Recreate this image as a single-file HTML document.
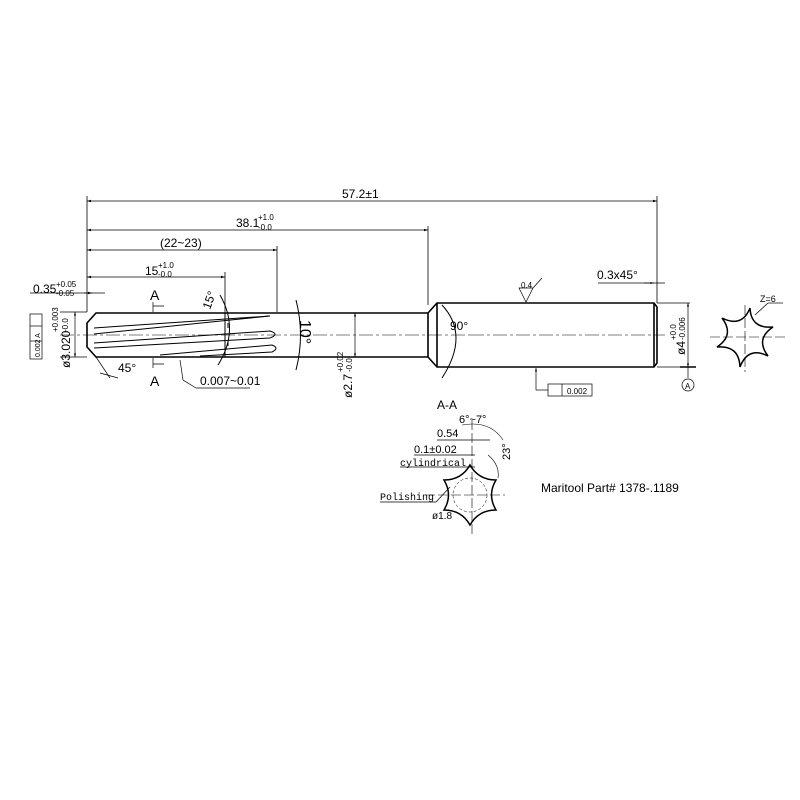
<!DOCTYPE html>
<html><head><style>body{margin:0;background:#fff}svg{display:block}text{font-family:"Liberation Sans",sans-serif;fill:#000}.s{font-family:"Liberation Mono",monospace}</style></head><body>
<svg width="800" height="800" viewBox="0 0 800 800" xmlns="http://www.w3.org/2000/svg">
<defs><marker id="a" viewBox="0 0 10 10" refX="10" refY="5" markerWidth="7" markerHeight="5" orient="auto-start-reverse"><path d="M0,2L10,5L0,8z" fill="#000"/></marker></defs>
<g stroke="#000" fill="none" stroke-width="0.8">
<line x1="87" y1="196" x2="87" y2="312"/>
<line x1="657" y1="196" x2="657" y2="303"/>
<line x1="428" y1="226" x2="428" y2="305"/>
<line x1="277" y1="246" x2="277" y2="312"/>
<line x1="225" y1="272" x2="225" y2="313"/>
<line x1="87" y1="201" x2="657" y2="201" marker-start="url(#a)" marker-end="url(#a)"/>
<line x1="87" y1="230" x2="428" y2="230" marker-start="url(#a)" marker-end="url(#a)"/>
<line x1="87" y1="250" x2="277" y2="250" marker-start="url(#a)" marker-end="url(#a)"/>
<line x1="87" y1="277" x2="225" y2="277" marker-start="url(#a)" marker-end="url(#a)"/>
<line x1="30" y1="293" x2="105" y2="293"/>
<line x1="84" y1="293" x2="92" y2="293" marker-end="url(#a)"/>
</g>
<g stroke="#000" stroke-width="1.6" fill="none">
<path d="M428,313 L96,313 L87,323 L87,347 L96,357 L428,357"/>
<path d="M428,313 L437,303 L654,303 L657,307 L657,363 L654,367 L437,367 L428,357 Z"/>
<line x1="437" y1="303" x2="437" y2="367"/><line x1="654" y1="303" x2="654" y2="367"/>
</g>
<g stroke="#000" stroke-width="1" fill="none">
<path d="M94,328 L270,316 L94,334"/><path d="M94,343 L270,331 Q280,334 270,338 L94,348"/>
<path d="M160,355 L272,345 Q280,348 272,352 L200,356"/>
<line x1="225" y1="313" x2="225" y2="357"/><line x1="228" y1="323" x2="228" y2="328"/><line x1="228" y1="342" x2="228" y2="346"/>
<path d="M220,295 Q240,330 218,365"/>
<path d="M296,300 Q305,335 296,370"/>
<path d="M442,305 Q470,335 442,378"/>
</g>
<g stroke="#000" stroke-width="0.7" fill="none">
<line x1="60" y1="312" x2="87" y2="312"/><line x1="60" y1="357" x2="87" y2="357"/>
<line x1="75" y1="312" x2="75" y2="357" marker-start="url(#a)" marker-end="url(#a)"/>
<line x1="355" y1="313" x2="355" y2="357" marker-start="url(#a)" marker-end="url(#a)"/>
<line x1="657" y1="303" x2="690" y2="303"/><line x1="657" y1="367" x2="690" y2="367"/>
<line x1="688" y1="303" x2="688" y2="367" marker-start="url(#a)" marker-end="url(#a)"/>
<line x1="680" y1="367" x2="696" y2="367" stroke-width="1.5"/><line x1="688" y1="367" x2="688" y2="378"/><circle cx="688" cy="385" r="6"/>
<line x1="598" y1="283" x2="665" y2="283"/><line x1="644" y1="283" x2="654" y2="283" marker-end="url(#a)"/>
<line x1="180" y1="360" x2="183" y2="380"/><line x1="183" y1="380" x2="196" y2="388"/><line x1="196" y1="388" x2="250" y2="388"/>
<line x1="536" y1="390" x2="536" y2="368" marker-end="url(#a)"/><line x1="536" y1="390" x2="548" y2="390"/>
<rect x="548" y="384" width="44" height="12"/><line x1="562" y1="384" x2="562" y2="396"/>
<rect x="30" y="314" width="12" height="45"/><line x1="30" y1="326" x2="42" y2="326"/><line x1="30" y1="341" x2="42" y2="341"/>
<path d="M519,288 L533,288 L526,302 Z"/><line x1="533" y1="288" x2="542" y2="278"/>
<path d="M153,302 L153,312 M153,306 L164,306"/><path d="M153,368 L153,358 M153,364 L164,364"/>
<line x1="96" y1="357" x2="110" y2="378"/><line x1="100" y1="373" x2="118" y2="378"/>
</g>
<line x1="60" y1="335" x2="470" y2="335" stroke="#000" stroke-width="0.6" stroke-dasharray="14,3,3,3"/>
<line x1="470" y1="335" x2="665" y2="335" stroke="#000" stroke-width="0.6" stroke-dasharray="14,3,3,3"/>
<g font-size="12">
<text x="342" y="198">57.2±1</text>
<text x="236" y="227">38.1</text><text x="258" y="220" font-size="8">+1.0</text><text x="258" y="230" font-size="8">-0.0</text>
<text x="160" y="247">(22~23)</text>
<text x="145" y="275">15</text><text x="158" y="268" font-size="8">+1.0</text><text x="158" y="277" font-size="8">-0.0</text>
<text x="33" y="293">0.35</text><text x="56" y="287" font-size="8">+0.05</text><text x="56" y="296" font-size="8">-0.05</text>
<text x="597" y="279">0.3x45°</text>
<text x="450" y="330">90°</text>
<text x="200" y="385">0.007~0.01</text>
<text x="118" y="372">45°</text>
<text x="541" y="492">Maritool Part# 1378-.1189</text>
<text transform="translate(70,368) rotate(-90)">ø3.020</text><text transform="translate(58,332) rotate(-90)" font-size="8">+0.003</text><text transform="translate(68,332) rotate(-90)" font-size="8">-0.0</text>
<text transform="translate(352,398) rotate(-90)">ø2.7</text><text transform="translate(343,372) rotate(-90)" font-size="8">+0.02</text><text transform="translate(352,372) rotate(-90)" font-size="8">-0.0</text>
<text transform="translate(685,355) rotate(-90)">ø4</text><text transform="translate(676,340) rotate(-90)" font-size="8">+0.0</text><text transform="translate(685,340) rotate(-90)" font-size="8">-0.006</text>
<text transform="translate(300,320) rotate(90)" font-size="16">10°</text>
<text transform="translate(210,310) rotate(-70)">15°</text>
<text x="150" y="300" font-family="Liberation Serif" font-size="14">A</text><text x="150" y="386" font-family="Liberation Serif" font-size="14">A</text>
<text x="521" y="288" font-size="8">0.4</text><text x="567" y="394" font-size="8">0.002</text>
<text x="685" y="389" font-size="8">A</text><text x="760" y="302" font-size="9">Z=6</text>
<text transform="translate(40,357) rotate(-90)" font-size="7">0.002  A</text>
<text x="437" y="409" font-family="Liberation Serif">A-A</text>
<text x="459" y="423" font-size="11">6°~7°</text><text x="437" y="437" font-size="11">0.54</text><text x="414" y="453" font-size="11">0.1±0.02</text>
<text x="400" y="466" font-size="10" class="s">cylindrical</text><text x="380" y="500" font-size="10" class="s">Polishing</text><text x="432" y="519" font-size="10">ø1.8</text>
<text transform="translate(510,460) rotate(-90)" font-size="11">23°</text>
</g>
<g stroke="#000" fill="none">
<path stroke-width="1.5" d="M470,465 Q478.5,480 496,480 Q487,495 496,510 Q478.5,510 470,525 Q461.5,510 444,510 Q453,495 444,480 Q461.5,480 470,465Z"/>
<path stroke-width="1.5" d="M750,308 Q751,329 773,327 Q755,339 768,356 Q748,346 740,367 Q739,345 717,347 Q735,335 722,318 Q742,328 750,308Z"/>
<line x1="710" y1="337" x2="785" y2="337" stroke-width="0.6" stroke-dasharray="10,3"/><line x1="745" y1="305" x2="745" y2="372" stroke-width="0.6" stroke-dasharray="10,3"/>
<line x1="425" y1="495" x2="505" y2="495" stroke-width="0.6" stroke-dasharray="10,3"/><line x1="472" y1="420" x2="472" y2="535" stroke-width="0.6" stroke-dasharray="10,3"/>
<circle cx="470" cy="495" r="17" stroke-width="0.5" stroke-dasharray="3,2"/>
<line x1="380" y1="502" x2="436" y2="502" stroke-width="0.7"/><line x1="436" y1="502" x2="450" y2="487" stroke-width="0.7"/>
<line x1="400" y1="467" x2="475" y2="467" stroke-width="0.7"/><line x1="414" y1="455" x2="475" y2="455" stroke-width="0.7"/><line x1="437" y1="440" x2="490" y2="440" stroke-width="0.7"/>
<path d="M462,425 Q490,420 503,440" stroke-width="0.6"/><path d="M488,455 Q500,465 498,478" stroke-width="0.6"/>
<line x1="755" y1="315" x2="768" y2="303" stroke-width="0.7"/><line x1="768" y1="303" x2="783" y2="303" stroke-width="0.7"/>
</g>
</svg>
</body></html>
